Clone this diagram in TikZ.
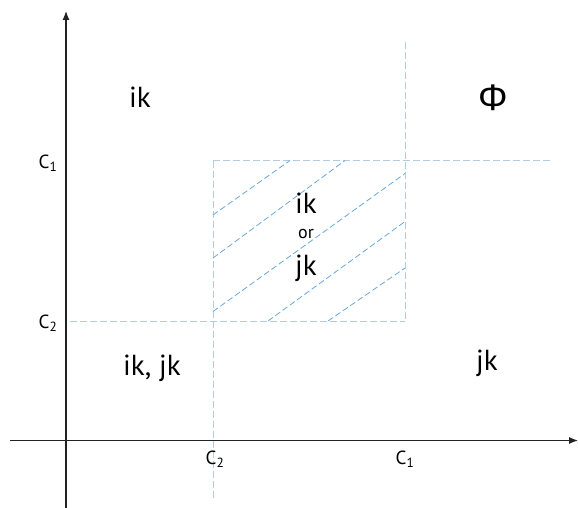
\documentclass[tikz,border=0pt]{standalone}
\usepackage{fontspec}
\setmainfont{PT Sans}
\newfontfamily\phifont{Liberation Sans}
\usetikzlibrary{arrows.meta}
\definecolor{guide}{HTML}{B4CCE0}
\definecolor{hatch}{HTML}{6AA8DC}
\definecolor{axiscol}{HTML}{222222}
\tikzset{
  axisline/.style={draw=axiscol, line width=1.2pt, -{Latex[length=9pt,width=7pt]}},
  guideline/.style={draw=guide, line width=0.8pt, dash pattern=on 7pt off 3pt},
  hatchline/.style={draw=hatch, line width=0.8pt, dash pattern=on 6pt off 3pt},
  biglabel/.style={anchor=base, font=\fontsize{29}{32}\selectfont, text=black, inner sep=0pt},
  smalllabel/.style={anchor=base, font=\fontsize{18}{20}\selectfont, text=black, inner sep=0pt},
  ticklabel/.style={anchor=base, font=\fontsize{19}{21}\selectfont, text=black, inner sep=0pt}
}
\begin{document}
\begin{tikzpicture}[x=1pt,y=-1pt]
\useasboundingbox[fill=white] (0,0) rectangle (578,508);
% axes
\coordinate (xs) at (10,440.5);
\coordinate (xe) at (578,440.5);
\coordinate (ys) at (66,508);
\coordinate (ye) at (66,11);
% guides
\coordinate (v1a) at (213,160.5);
\coordinate (v1b) at (213,500);
\coordinate (v2a) at (405,42);
\coordinate (v2b) at (405,321);
\coordinate (h1a) at (213,160.5);
\coordinate (h1b) at (551,160.5);
\coordinate (h2a) at (70,321);
\coordinate (h2b) at (405,321);
\draw[guideline] (v1a) -- (v1b);
\draw[guideline] (v2a) -- (v2b);
\draw[guideline] (h1a) -- (h1b);
\draw[guideline] (h2a) -- (h2b);
% hatching
\draw[hatchline] (213,215) -- (290,160.5);
\draw[hatchline] (213,258) -- (345,160.5);
\draw[hatchline] (213,311.5) -- (405,173.5);
\draw[hatchline] (268,321) -- (405,221.5);
\draw[hatchline] (328,321) -- (405,268);
\draw[axisline] (xs) -- (xe);
\draw[axisline] (ys) -- (ye);
% labels
\node[biglabel] (lik) at (140,108) {ik};
\node[biglabel] (likjk) at (152,375) {ik, jk};
\node[biglabel] (ljk) at (487,370) {jk};
\node[biglabel, font=\phifont\fontsize{37}{40}\selectfont] (lphi) at (493,111) {Φ};
\node[biglabel] (cik) at (306,213) {ik};
\node[smalllabel] (cor) at (306,238) {or};
\node[biglabel] (cjk) at (306,275) {jk};
\node[ticklabel] (yc1) at (48,168) {C\textsubscript{1}};
\node[ticklabel] (yc2) at (48,328) {C\textsubscript{2}};
\node[ticklabel] (xc2) at (215,464) {C\textsubscript{2}};
\node[ticklabel] (xc1) at (405,464) {C\textsubscript{1}};
\end{tikzpicture}
\end{document}
